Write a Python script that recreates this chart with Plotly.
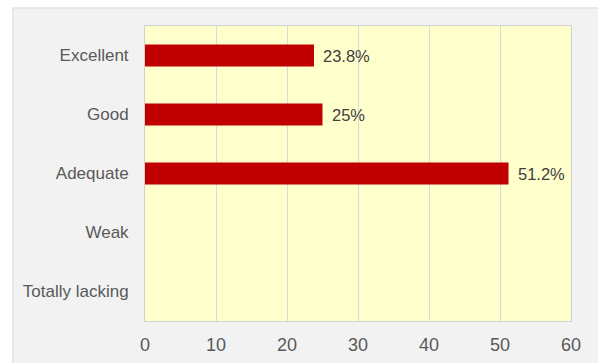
import plotly.graph_objects as go

categories = ["Excellent", "Good", "Adequate", "Weak", "Totally lacking"]
values = [23.8, 25, 51.2, 0, 0]
labels = ["23.8%", "25%", "51.2%", "", ""]
x_ticks = [0, 10, 20, 30, 40, 50, 60]

FONT = "Liberation Sans, Arial, sans-serif"

fig = go.Figure()
fig.add_trace(go.Bar(
    x=values, y=categories, orientation="h",
    marker=dict(color="#c00000", line=dict(width=0)),
    hoverinfo="skip",
))

for v, c, t in zip(values, categories, labels):
    if t:
        fig.add_annotation(x=v, y=c, text=t, showarrow=False, xanchor="left",
                           xshift=7, font=dict(family=FONT, size=16.5, color="#404040"))

# white strips outside the grey panel + panel border
L, R, T, B = 145, 571, 26, 321
W, H = R - L, B - T
def px_x(p):
    return (p - L) / W
def px_y(p):
    return (B - p) / H

fig.add_shape(type="rect", xref="paper", yref="paper", layer="below",
              x0=px_x(-10), x1=px_x(610), y0=px_y(7.5), y1=px_y(-10),
              fillcolor="white", line=dict(width=0))
fig.add_shape(type="rect", xref="paper", yref="paper", layer="below",
              x0=px_x(-10), x1=px_x(12.5), y0=px_y(380), y1=px_y(-10),
              fillcolor="white", line=dict(width=0))
fig.add_shape(type="line", xref="paper", yref="paper", layer="below",
              x0=px_x(12.5), x1=px_x(610), y0=px_y(8), y1=px_y(8),
              line=dict(color="#d9d9d9", width=1))
fig.add_shape(type="line", xref="paper", yref="paper", layer="below",
              x0=px_x(13), x1=px_x(13), y0=px_y(380), y1=px_y(8),
              line=dict(color="#d9d9d9", width=1))

fig.update_layout(
    width=598, height=363,
    margin=dict(l=L, r=598 - R, t=T, b=363 - B, autoexpand=False),
    paper_bgcolor="#f2f2f2", plot_bgcolor="#ffffcc",
    bargap=0.627, showlegend=False,
    font=dict(family=FONT, color="#595959"),
)
fig.update_xaxes(range=[0, 60], tickvals=x_ticks, showgrid=True, gridcolor="#d9d9d9",
                 gridwidth=1, zeroline=False, showline=True, linecolor="#d0d0d0",
                 mirror=True, ticks="outside", ticklen=7, tickcolor="rgba(0,0,0,0)",
                 tickfont=dict(size=18, color="#595959"), fixedrange=True, automargin=False)
fig.update_yaxes(autorange="reversed", showgrid=False, showline=True, linecolor="#d0d0d0",
                 mirror=True, ticks="outside", ticklen=12, tickcolor="rgba(0,0,0,0)",
                 tickfont=dict(size=17, color="#595959"), fixedrange=True, automargin=False)

fig.write_html("out.html", config={"displayModeBar": False})
